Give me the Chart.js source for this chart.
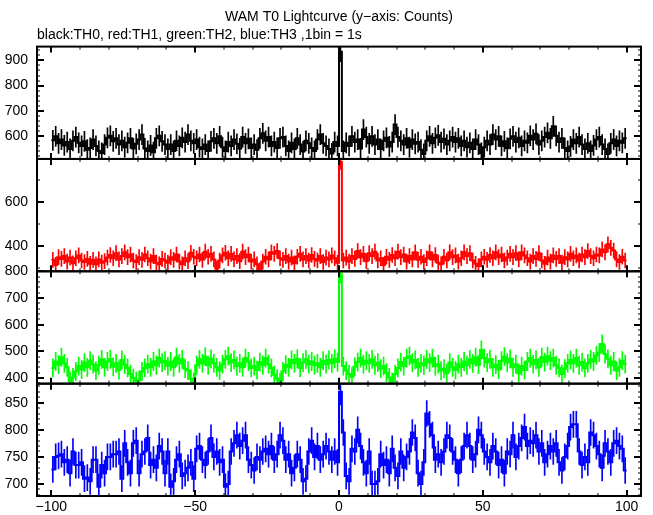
<!DOCTYPE html>
<html>
<head>
<meta charset="utf-8">
<script src="https://cdn.jsdelivr.net/npm/chart.js@4/dist/chart.umd.min.js"></script>
<style>
  html, body { margin: 0; padding: 0; background: #fff; }
  #wrap { width: 653px; height: 515px; }
</style>
</head>
<body>
<div id="wrap"><canvas id="lc" width="653" height="515"></canvas></div>
<script>
// light curve, 1 s bins from -100 s to +100 s
const T_START = -100;
const BIN = 1;

// TH0 (black)
const th0 = [
  582,598,570,585,562,575,548,580,595,572,
  560,578,545,552,585,560,540,532,565,592,
  600,578,590,565,580,555,572,590,550,568,
  585,605,550,540,562,535,590,600,578,565,
  548,565,540,580,560,592,575,605,580,570,
  585,555,548,565,540,578,590,570,598,555,
  540,575,560,585,568,550,595,570,588,552,
  565,545,590,610,580,595,560,575,552,590,
  595,560,540,572,548,590,565,538,580,570,
  552,540,585,605,570,560,548,530,575,560,
  935,540,572,560,598,575,585,550,625,595,
  570,598,565,585,548,580,592,558,575,645,
  595,580,565,590,555,585,568,575,545,528,
  580,598,570,592,602,575,588,565,580,595,
  575,590,560,580,555,572,548,585,565,532,
  555,580,565,605,585,598,560,578,552,588,
  598,575,592,560,580,572,600,585,608,565,
  580,595,612,590,638,600,575,590,552,540,
  558,585,570,595,565,548,570,540,562,585,
  595,565,548,528,570,585,560,580,572,590
];

// TH1 (red)
const th1 = [
  338,315,350,342,355,330,348,322,345,358,
  335,328,342,320,338,318,340,325,332,348,
  360,345,368,340,355,372,350,362,335,328,
  350,338,362,345,330,355,325,318,342,335,
  325,350,338,362,330,318,345,332,370,352,
  345,362,338,375,352,365,340,298,335,358,
  370,345,365,340,355,332,375,350,362,330,
  340,318,292,330,352,340,372,365,378,345,
  338,355,330,348,322,352,365,340,355,335,
  360,342,335,355,328,348,340,358,345,325,
  782,335,348,330,355,342,378,350,365,332,
  368,355,375,335,345,315,352,338,360,345,
  375,350,362,330,355,340,372,338,352,328,
  345,372,340,360,325,318,352,335,372,350,
  358,330,345,372,355,368,335,320,310,340,
  352,338,360,345,372,350,362,335,348,365,
  350,368,340,372,358,345,330,355,342,368,
  335,320,348,330,358,342,355,325,350,340,
  365,345,358,335,362,350,378,355,345,362,
  358,385,372,408,392,380,340,328,352,335
];

// TH2 (green)
const th2 = [
  438,462,450,478,455,440,388,402,425,445,
  432,458,440,465,452,428,448,470,440,462,
  470,442,455,430,468,450,438,415,400,388,
  392,425,438,452,440,462,448,475,458,465,
  445,462,440,478,455,470,435,428,398,385,
  448,470,455,480,448,472,455,440,428,452,
  470,482,458,468,445,455,440,475,462,438,
  445,430,460,448,475,452,438,412,398,385,
  425,450,440,468,455,472,438,458,470,452,
  462,448,455,440,465,452,468,455,472,460,
  790,445,428,415,405,442,460,475,452,465,
  455,470,448,458,435,445,420,402,385,415,
  438,460,445,475,482,458,468,440,455,448,
  470,458,475,445,452,428,435,418,458,440,
  430,452,440,462,448,470,455,478,450,505,
  475,458,470,440,450,432,465,480,458,472,
  440,452,418,445,430,462,475,452,468,440,
  478,460,482,465,475,448,438,415,435,455,
  468,455,475,448,460,438,455,470,462,485,
  495,528,490,472,448,462,428,440,465,452
];

// TH3 (blue)
const th3 = [
  727,750,752,755,740,745,720,760,735,735,
  740,710,712,705,745,745,695,735,720,750,
  750,755,755,760,710,775,740,720,775,780,
  720,755,760,785,735,745,730,770,760,720,
  760,695,705,745,755,715,720,730,740,710,
  765,770,745,735,760,785,750,760,740,745,
  695,700,760,775,790,770,780,790,745,735,
  725,750,745,760,765,755,770,745,755,790,
  780,745,755,720,730,755,745,705,710,760,
  780,750,770,745,755,770,760,745,760,740,
  870,795,715,705,765,760,800,770,740,720,
  760,700,700,705,755,735,745,720,765,730,
  715,760,730,750,760,795,785,720,700,740,
  830,810,790,745,755,740,760,790,785,760,
  745,720,745,770,790,770,745,755,800,790,
  760,750,740,770,760,735,745,720,760,755,
  790,750,770,785,805,770,780,775,790,760,
  775,740,755,770,760,775,740,725,750,770,
  805,810,810,760,735,750,740,795,790,770,
  755,730,775,760,740,775,780,770,765,725
];

// half length of the error bars
const errTH0 = 40;
const errTH1 = 34;
const errTH2 = 34;
const errTH3 = 24;

// axis ticks
const xTicks = [-100, -50, 0, 50, 100];
const ticksTH0 = [600, 700, 800, 900];
const ticksTH1 = [400, 600];
const ticksTH2 = [400, 500, 600, 700, 800];
const ticksTH3 = [700, 750, 800, 850];

const panels = [
  { id: 'y0', vals: th0, err: errTH0, color: '#000000', ticks: ticksTH0, min: 508, max: 955, minor: 20, weight: 4 },
  { id: 'y1', vals: th1, err: errTH1, color: '#ff0000', ticks: ticksTH1, min: 286, max: 795, minor: 100, weight: 3 },
  { id: 'y2', vals: th2, err: errTH2, color: '#00ff00', ticks: ticksTH2, min: 379, max: 800, minor: 20, weight: 2 },
  { id: 'y3', vals: th3, err: errTH3, color: '#0000ff', ticks: ticksTH3, min: 678, max: 885, minor: 10, weight: 1 }
];

const times = th0.map((_, i) => T_START + (i + 0.5) * BIN);
const FONT = { family: '"Liberation Sans", Arial, sans-serif', size: 14 };

const datasets = [];
panels.forEach(p => {
  datasets.push({
    type: 'bar',
    data: p.vals.map((v, i) => ({ x: times[i], y: [v - p.err, v + p.err] })),
    backgroundColor: p.color,
    borderWidth: 0,
    barThickness: 1,
    grouped: false,
    yAxisID: p.id
  });
  const pts = p.vals.map((v, i) => ({ x: times[i], y: v }));
  pts.unshift({ x: T_START, y: p.vals[0] });
  pts.push({ x: T_START + p.vals.length * BIN, y: p.vals[p.vals.length - 1] });
  datasets.push({
    type: 'line',
    data: pts,
    borderColor: p.color,
    borderWidth: 2,
    stepped: 'middle',
    pointRadius: 0,
    fill: false,
    yAxisID: p.id
  });
});

const scales = {
  x: {
    type: 'linear',
    min: -105,
    max: 105,
    offset: false,
    grid: { display: false, drawTicks: false },
    border: { display: false },
    ticks: {
      color: '#000', font: FONT, padding: 3, autoSkip: false, maxRotation: 0,
      callback: v => String(v).replace('-', '\u2212')
    },
    afterBuildTicks: s => { s.ticks = xTicks.map(v => ({ value: v })); },
    afterFit: s => { s.height = 19; }
  }
};
panels.forEach(p => {
  scales[p.id] = {
    type: 'linear',
    position: 'left',
    stack: 'lc',
    stackWeight: 1,
    weight: p.weight,
    min: p.min,
    max: p.max,
    beginAtZero: false,
    grid: { display: false, drawTicks: false },
    border: { display: false },
    ticks: { color: '#000', font: FONT, padding: 9, autoSkip: false },
    afterBuildTicks: s => { s.ticks = p.ticks.map(v => ({ value: v })); },
    afterFit: s => { s.width = 37; }
  };
});

// clip each dataset to its own panel, draw the frames with inward ticks
const framePlugin = {
  id: 'frame',
  beforeDatasetDraw(chart, args) {
    const ys = chart.scales[args.meta.yAxisID];
    const a = chart.chartArea;
    const ctx = chart.ctx;
    ctx.save();
    ctx.beginPath();
    ctx.rect(a.left, ys.top, a.right - a.left, ys.bottom - ys.top);
    ctx.clip();
  },
  afterDatasetDraw(chart) {
    chart.ctx.restore();
  },
  afterDraw(chart) {
    const ctx = chart.ctx;
    const a = chart.chartArea;
    const xs = chart.scales.x;
    ctx.save();
    ctx.strokeStyle = '#000';
    const line = (x1, y1, x2, y2, w) => {
      ctx.lineWidth = w;
      ctx.beginPath();
      ctx.moveTo(x1, y1);
      ctx.lineTo(x2, y2);
      ctx.stroke();
    };
    panels.forEach(p => {
      const ys = chart.scales[p.id];
      // x ticks, top and bottom of the panel
      for (let v = -100; v <= 100; v += 10) {
        const px = Math.round(xs.getPixelForValue(v));
        const major = xTicks.includes(v);
        const len = major ? 6 : 3;
        line(px, ys.top, px, ys.top + len, major ? 2 : 1);
        line(px, ys.bottom, px, ys.bottom - len, major ? 2 : 1);
      }
      // y ticks, left and right
      const first = Math.ceil(p.min / p.minor) * p.minor;
      for (let v = first; v <= p.max; v += p.minor) {
        const py = Math.round(ys.getPixelForValue(v));
        const major = p.ticks.includes(v);
        const len = major ? 7 : 3;
        line(a.left, py, a.left + len, py, major ? 2 : 1);
        line(a.right, py, a.right - len, py, major ? 2 : 1);
      }
      ctx.lineWidth = 2;
      ctx.strokeRect(a.left, ys.top, a.right - a.left, ys.bottom - ys.top);
    });
    ctx.restore();
  }
};

new Chart(document.getElementById('lc').getContext('2d'), {
  type: 'line',
  data: { datasets: datasets },
  options: {
    responsive: false,
    animation: false,
    events: [],
    layout: { padding: { left: 0, right: 12, top: 0, bottom: 0 } },
    scales: scales,
    plugins: {
      legend: { display: false },
      tooltip: { enabled: false },
      title: {
        display: true,
        text: 'WAM T0 Lightcurve (y\u2212axis: Counts)',
        color: '#000',
        font: { family: FONT.family, size: 14, weight: 'normal' },
        fullSize: false,
        padding: { top: 9, bottom: 1 }
      },
      subtitle: {
        display: true,
        text: 'black:TH0, red:TH1, green:TH2, blue:TH3 ,1bin = 1s',
        color: '#000',
        font: { family: FONT.family, size: 14, weight: 'normal' },
        align: 'start',
        fullSize: false,
        padding: { top: 0, bottom: 3 }
      }
    }
  },
  plugins: [framePlugin]
});
</script>
</body>
</html>
